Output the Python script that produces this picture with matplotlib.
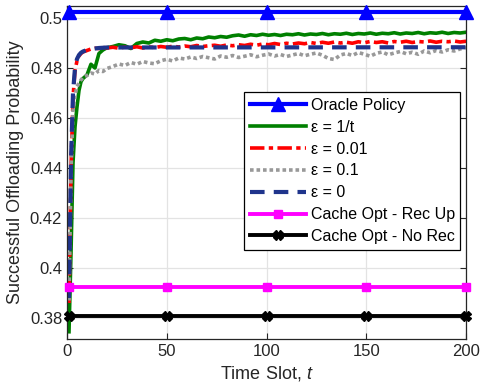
import matplotlib
matplotlib.use('Agg')
import matplotlib.pyplot as plt

plt.rcParams['font.family'] = ['Liberation Sans', 'DejaVu Sans']
plt.rcParams['mathtext.fontset'] = 'custom'
plt.rcParams['mathtext.rm'] = 'Liberation Sans'
plt.rcParams['mathtext.it'] = 'Liberation Sans:italic'

# time slots for the learning curves
t = [1, 2, 3, 4, 5, 6, 7, 8, 10, 12, 14, 16, 18, 20] + list(range(23, 201, 3))

eps_1t = [0.3745, 0.406, 0.442, 0.4564, 0.4644, 0.471, 0.4745, 0.4758, 0.4772, 0.4815, 0.4800, 0.4858, 0.4872, 0.4881,
          0.4886, 0.4893, 0.4889, 0.4878, 0.4898, 0.4904, 0.4900, 0.4911, 0.4907, 0.4913,
          0.4909, 0.4916, 0.4918, 0.4913, 0.4920, 0.4917, 0.4924, 0.4921, 0.4926, 0.4923,
          0.4929, 0.4932, 0.4927, 0.4933, 0.4930, 0.4935, 0.4931, 0.4934, 0.4930, 0.4935,
          0.4933, 0.4937, 0.4932, 0.4936, 0.4934, 0.4938, 0.4933, 0.4937, 0.4935, 0.4939,
          0.4934, 0.4938, 0.4936, 0.4940, 0.4935, 0.4939, 0.4937, 0.4941, 0.4936, 0.4940,
          0.4938, 0.4942, 0.4937, 0.4941, 0.4939, 0.4943, 0.4938, 0.4942, 0.4940, 0.4943]

eps_001 = [0.386, 0.440, 0.468, 0.4790, 0.4828, 0.4848, 0.4858, 0.4864, 0.4870, 0.4876, 0.4879, 0.4878, 0.4882, 0.4880,
           0.4883, 0.4879, 0.4884, 0.4881, 0.4885, 0.4880, 0.4884, 0.4882, 0.4886, 0.4883,
           0.4887, 0.4884, 0.4888, 0.4885, 0.4890, 0.4886, 0.4889, 0.4891, 0.4887, 0.4892,
           0.4889, 0.4893, 0.4890, 0.4895, 0.4891, 0.4896, 0.4893, 0.4898, 0.4894, 0.4899,
           0.4896, 0.4900, 0.4897, 0.4902, 0.4898, 0.4903, 0.4899, 0.4904, 0.4900, 0.4903,
           0.4899, 0.4905, 0.4901, 0.4906, 0.4902, 0.4905, 0.4900, 0.4906, 0.4903, 0.4907,
           0.4902, 0.4906, 0.4904, 0.4908, 0.4903, 0.4907, 0.4905, 0.4908, 0.4904, 0.4907]

eps_01 = [0.387, 0.438, 0.463, 0.469, 0.4725, 0.4740, 0.4752, 0.4762, 0.4770, 0.4780, 0.4776, 0.4790, 0.4786, 0.4798,
          0.4806, 0.4816, 0.4810, 0.4822, 0.4815, 0.4826, 0.4820, 0.4817, 0.4829, 0.4835,
          0.4828, 0.4840, 0.4836, 0.4844, 0.4838, 0.4846, 0.4841, 0.4836, 0.4848, 0.4843,
          0.4850, 0.4842, 0.4847, 0.4853, 0.4845, 0.4851, 0.4856, 0.4848, 0.4854, 0.4846,
          0.4852, 0.4858, 0.4849, 0.4855, 0.4860, 0.4851, 0.4838, 0.4834, 0.4852, 0.4858,
          0.4850, 0.4862, 0.4855, 0.4847, 0.4859, 0.4864, 0.4853, 0.4860, 0.4866, 0.4857,
          0.4863, 0.4855, 0.4868, 0.4861, 0.4870, 0.4864, 0.4873, 0.4868, 0.4876, 0.4882]

t_eps0 = [1, 2, 3, 4, 5, 6, 7, 8, 10, 12, 14, 16, 18, 20, 200]
eps_0 = [0.388, 0.443, 0.470, 0.4800, 0.4836, 0.4852, 0.4861, 0.4866, 0.4872, 0.4876, 0.4878, 0.4880, 0.4881, 0.4882, 0.4883]

# flat baselines
t_flat = [1, 50, 100, 150, 200]
oracle = [0.5024, 0.5024, 0.5024, 0.5024, 0.5024]
rec_up = [0.3924, 0.3924, 0.3924, 0.3924, 0.3924]
no_rec = [0.3808, 0.3808, 0.3808, 0.3808, 0.3808]

fig = plt.figure(figsize=(4.8, 3.92), dpi=100)
ax = fig.add_axes([0.1396, 0.1352, 0.8314, 0.8495])

ax.plot(t_flat, oracle, color='#0000ff', lw=3, marker='^', ms=10, clip_on=False, zorder=5, label='Oracle Policy')
ax.plot(t, eps_1t, color='#008000', lw=2.6, label='\u03b5 = 1/t')
ax.plot(t, eps_001, color='#ff0000', lw=2.6, linestyle=(0, (4, 1.2, 1.2, 1.2)), label='\u03b5 = 0.01')
ax.plot(t, eps_01, color='#999999', lw=2.6, linestyle=(0, (1, 0.8)), label='\u03b5 = 0.1')
ax.plot(t_eps0, eps_0, color='#1f348c', lw=3, linestyle=(0, (3.5, 2.2)), label='\u03b5 = 0')
ax.plot(t_flat, rec_up, color='#ff00ff', lw=2.8, marker='s', ms=6, clip_on=False, zorder=5, label='Cache Opt - Rec Up')
ax.plot(t_flat, no_rec, color='black', lw=2.8, marker='X', ms=7, clip_on=False, zorder=5, label='Cache Opt - No Rec')

ax.set_xlim(0, 200)
ax.set_ylim(0.3716, 0.5048)
ax.set_xticks([0, 50, 100, 150, 200])
ax.set_yticks([0.38, 0.4, 0.42, 0.44, 0.46, 0.48, 0.5])
ax.set_yticklabels(['0.38', '0.4', '0.42', '0.44', '0.46', '0.48', '0.5'])
ax.grid(True, color='#e3e3e3', lw=0.9)
ax.set_axisbelow(True)
ax.tick_params(direction='in', top=True, right=True, length=4, labelsize=12, colors='#262626')
for s in ax.spines.values():
    s.set_color('#262626')
    s.set_linewidth(0.9)

ax.set_xlabel('Time Slot, $t$', fontsize=13, color='#262626')
ax.set_ylabel('Successful Offloading Probability', fontsize=13, color='#262626')

leg = ax.legend(loc='upper right', bbox_to_anchor=(0.986, 0.741), fontsize=11.5, handlelength=3.5,
                labelspacing=0.43, handletextpad=0.3, borderpad=0.35, borderaxespad=0, fancybox=False, framealpha=1)
leg.get_frame().set_edgecolor('black')
leg.get_frame().set_linewidth(0.9)

fig.savefig('out.png', dpi=100)
